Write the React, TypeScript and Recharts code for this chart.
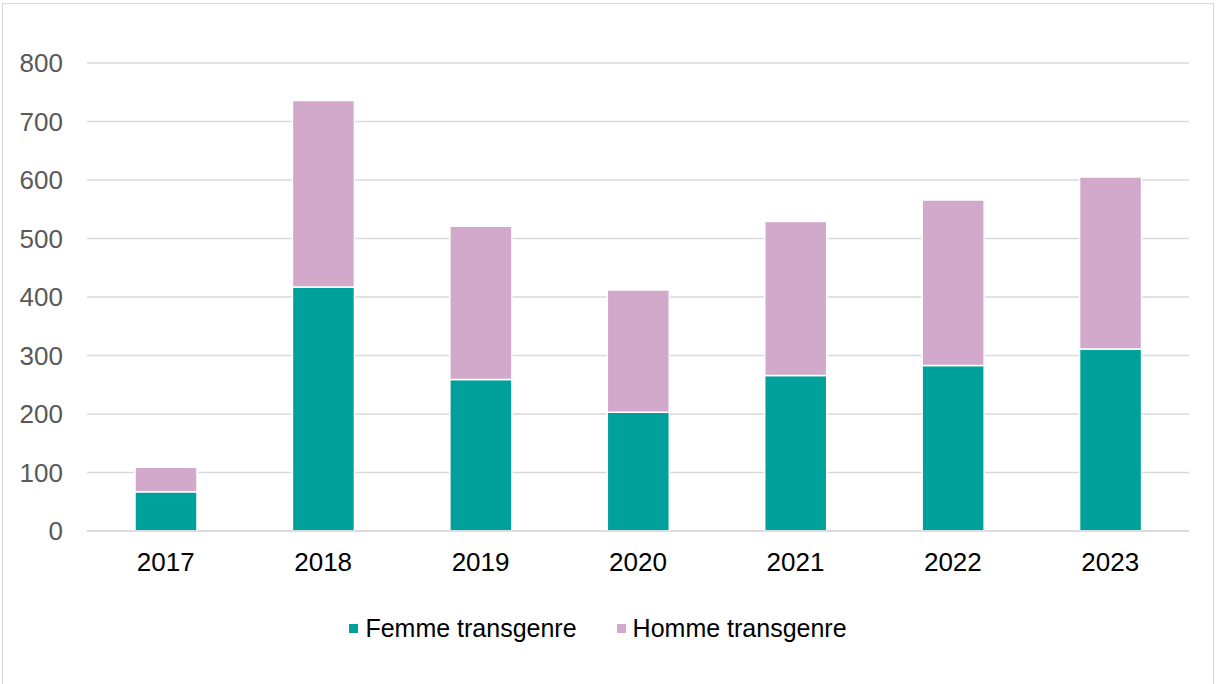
import { BarChart, Bar, XAxis, YAxis, CartesianGrid, Legend } from 'recharts'

const years = ['2017', '2018', '2019', '2020', '2021', '2022', '2023']
const femme = [67, 417, 259, 203, 266, 283, 311]
const homme = [42, 319, 262, 209, 263, 283, 294]
const yTicks = [0, 100, 200, 300, 400, 500, 600, 700, 800]

const series = [
  { key: 'femme', name: 'Femme transgenre', color: '#00a19a' },
  { key: 'homme', name: 'Homme transgenre', color: '#d2a8cb' },
]

const data = years.map((y, i) => ({ year: y, femme: femme[i], homme: homme[i] }))

const font = 'Arial, "Liberation Sans", sans-serif'

function LegendBox() {
  return (
    <div style={{ display: 'flex', justifyContent: 'center', fontFamily: font, fontSize: 25, color: '#000' }}>
      {series.map((s, i) => (
        <div key={s.key} style={{ display: 'flex', alignItems: 'center', marginLeft: i ? 40 : 0 }}>
          <span style={{ width: 9, height: 9, background: s.color, display: 'inline-block', marginRight: 7 }} />
          <span>{s.name}</span>
        </div>
      ))}
    </div>
  )
}

export default function App() {
  return (
    <div style={{ position: 'absolute', left: 0, top: 0, width: 1216, height: 684, background: '#fff' }}>
      <div style={{ position: 'absolute', left: 2, top: 3, width: 1212, height: 690, border: '1px solid #d9d9d9', boxSizing: 'border-box' }} />
      <BarChart width={1216} height={684} data={data} margin={{ top: 63, right: 27, left: 0, bottom: 70 }} barCategoryGap={0}>
        <CartesianGrid vertical={false} stroke="#d9d9d9" strokeWidth={1.5} />
        <XAxis
          dataKey="year"
          axisLine={{ stroke: '#d9d9d9', strokeWidth: 1.5 }}
          tickLine={false}
          height={54}
          tickMargin={16}
          tick={{ fill: '#000', fontSize: 26, fontFamily: font }}
        />
        <YAxis
          width={87}
          domain={[0, 800]}
          ticks={yTicks}
          axisLine={false}
          tickLine={false}
          tickSize={0}
          tickMargin={24}
          tick={{ fill: '#595959', fontSize: 26, fontFamily: font }}
        />
        <Legend content={() => <LegendBox />} wrapperStyle={{ position: 'absolute', top: 614, left: -10, width: 1216 }} />
        {series.map(s => (
          <Bar key={s.key} dataKey={s.key} name={s.name} stackId="a" fill={s.color} stroke="#fff" strokeWidth={1.5} barSize={62} isAnimationActive={false} />
        ))}
      </BarChart>
    </div>
  )
}
